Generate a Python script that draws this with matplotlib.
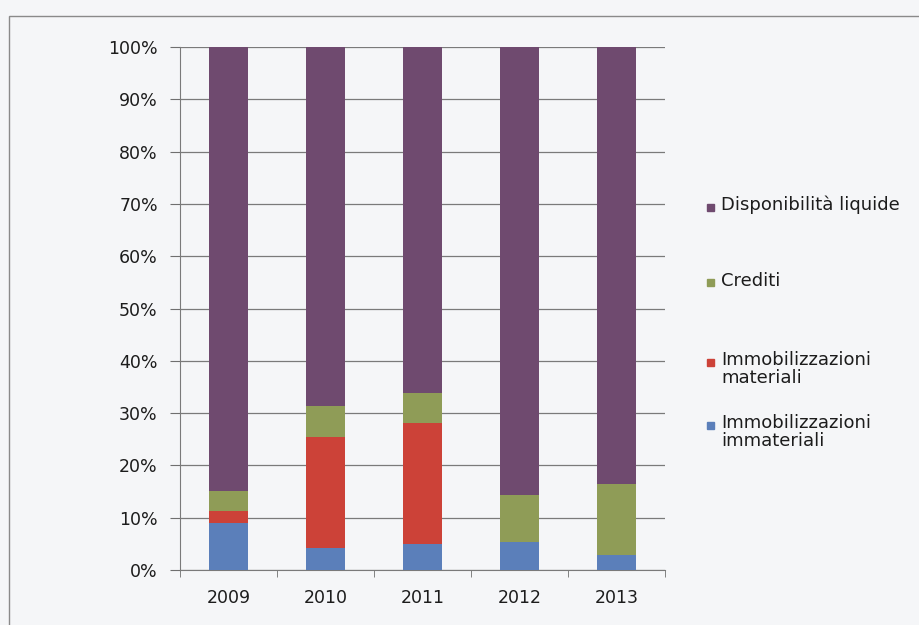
import numpy as np
import matplotlib.pyplot as plt
from matplotlib.patches import Rectangle

plt.rcParams["font.family"] = ["DejaVu Sans"]

# ===== DATA (quote %) =====
YEARS = ["2009", "2010", "2011", "2012", "2013"]
IMM_IMMATERIALI = [8.9, 4.2, 5.0, 5.4, 2.9]
IMM_MATERIALI = [2.4, 21.3, 23.1, 0.0, 0.0]
CREDITI = [3.8, 5.9, 5.8, 9.0, 13.5]
DISPONIBILITA = [84.9, 68.6, 66.1, 85.6, 83.6]

SERIES = [
    ("Immobilizzazioni\nimmateriali", IMM_IMMATERIALI, "#5b7fba"),
    ("Immobilizzazioni\nmateriali", IMM_MATERIALI, "#cc4238"),
    ("Crediti", CREDITI, "#8f9c57"),
    ("Disponibilità liquide", DISPONIBILITA, "#6f4a6f"),
]

BG = "#f5f6f8"
TXT = "#1c1c1c"

fig = plt.figure(figsize=(9.19, 6.25), dpi=100, facecolor=BG)
W, H = 919, 625

# chart frame
fig.patches.append(Rectangle((9 / W, -0.1), 1.2, 1.1 - 16 / H, transform=fig.transFigure,
                             fill=False, edgecolor="#8a8a8a", linewidth=1.0))

ax = fig.add_axes([180 / W, 55 / H, (665 - 180) / W, (570 - 47) / H])
ax.set_facecolor(BG)

x = np.arange(len(YEARS))
bottom = np.zeros(len(YEARS))
for label, vals, color in SERIES:
    vals = np.array(vals)
    ax.bar(x, vals, width=0.41, bottom=bottom, color=color, edgecolor="none", zorder=3)
    bottom += vals

ax.set_xlim(-0.5, len(YEARS) - 0.5)
ax.set_ylim(0, 100)
ax.set_yticks(np.arange(0, 101, 10))
ax.set_yticklabels([f"{v}%" for v in range(0, 101, 10)], fontsize=12.5, color=TXT)
ax.set_xticks(x)
ax.set_xticklabels(YEARS, fontsize=12.5, color=TXT)
ax.set_xticks(np.arange(-0.5, len(YEARS), 1), minor=True)
ax.tick_params(axis="x", which="major", length=0, pad=14)
ax.tick_params(axis="x", which="minor", length=5, color="#6f6f6f", direction="out")
ax.tick_params(axis="y", length=7, color="#6f6f6f", pad=9)

ax.grid(axis="y", color="#7a7a7a", linewidth=0.9, zorder=0)
for side in ["top", "right"]:
    ax.spines[side].set_visible(False)
ax.spines["left"].set_color("#7a7a7a")
ax.spines["bottom"].set_color("#7a7a7a")

# legend drawn by hand, swatch aligned with the first line
legend_rows = [
    ("Disponibilità liquide", "#6f4a6f", 207),
    ("Crediti", "#8f9c57", 283),
    ("Immobilizzazioni\nmateriali", "#cc4238", 362),
    ("Immobilizzazioni\nimmateriali", "#5b7fba", 425),
]
for text, color, yc in legend_rows:
    fig.patches.append(Rectangle((707 / W, 1 - (yc + 3.5) / H), 7 / W, 7 / H,
                                 transform=fig.transFigure, color=color))
    fig.text(721 / W, 1 - (yc - 11) / H, text, fontsize=13, color=TXT,
             va="top", ha="left", linespacing=1.0)

fig.savefig("out.png", dpi=100, facecolor=BG)
